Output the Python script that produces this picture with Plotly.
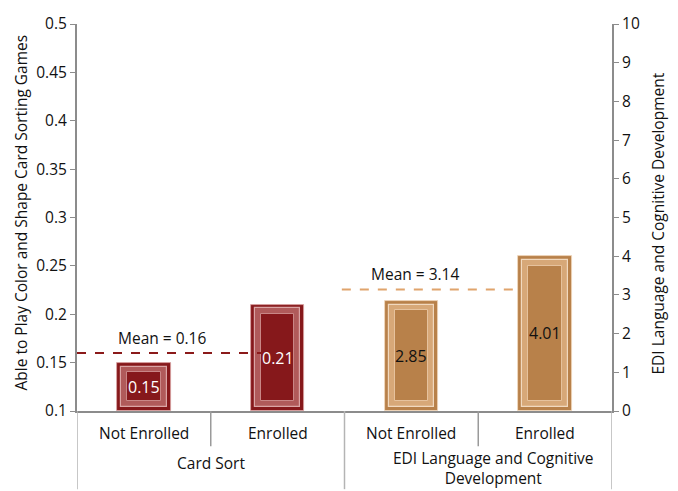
import plotly.graph_objects as go

# ---- data ----
groups = ["Card Sort", "EDI Language and Cognitive<br>Development"]
subcats = ["Not Enrolled", "Enrolled", "Not Enrolled", "Enrolled"]
card_values = [0.15, 0.21]          # left axis
edi_values = [2.85, 4.01]           # right axis
card_mean = 0.16
edi_mean = 3.14
left_ticks = [0.1, 0.15, 0.2, 0.25, 0.3, 0.35, 0.4, 0.45, 0.5]
right_ticks = list(range(0, 11))
left_title = "Able to Play Color and Shape Card Sorting Games"
right_title = "EDI Language and Cognitive Development"

# ---- style ----
FONT = "Open Sans"
AX = "#8c8c8c"
TXT = "#111111"
RED = dict(face="#86181b", band="#b05a5a", line="#dba5a5", inner="#c98686")
TAN = dict(face="#b8814a", band="#d7a878", line="#f1d9bf", inner="#e6c29d")
L_MIN, L_MAX = 0.1, 0.5
R_MIN, R_MAX = 0, 10
PLOT_W, PLOT_H = 535, 396          # px size of plotting area
X_PER_PX = 4 / PLOT_W
BAR_W = 0.40

fig = go.Figure()


def bevel_bar(xs, vals, axis, lo, hi, pal, txtcolor):
    per_px = (hi - lo) / PLOT_H
    layers = [  # (inset px, fill, outline, outline width)
        (0, pal["face"], pal["line"], 0.8),
        (4, pal["band"], pal["line"], 1.2),
        (10, pal["face"], pal["inner"], 1.0),
    ]
    for ins_px, fill, outline, lw in layers:
        ins_y = ins_px * per_px
        fig.add_trace(go.Bar(
            x=xs, y=[v - lo - 2 * ins_y for v in vals], base=[lo + ins_y] * len(vals),
            width=BAR_W - 2 * ins_px * X_PER_PX,
            marker=dict(color=fill, line=dict(color=outline, width=lw)),
            yaxis=axis, hoverinfo="skip", showlegend=False))
    for x, v in zip(xs, vals):
        fig.add_annotation(x=x, y=(lo + v) / 2, yref="y" if axis == "y" else "y2",
                           text=f"{v:.2f}", showarrow=False,
                           font=dict(family=FONT, size=16, color=txtcolor))


bevel_bar([0, 1], card_values, "y", L_MIN, L_MAX, RED, "white")
bevel_bar([2, 3], edi_values, "y2", R_MIN, R_MAX, TAN, TXT)

# mean lines
fig.add_shape(type="line", xref="x", yref="y", x0=-0.5, x1=1.07, y0=card_mean, y1=card_mean,
              line=dict(color="#8b1a1a", width=2, dash="dash"))
fig.add_shape(type="line", xref="x", yref="y2", x0=1.48, x1=2.76, y0=edi_mean, y1=edi_mean,
              line=dict(color="#e0a46c", width=2, dash="dash"))
fig.add_annotation(x=-0.21, y=card_mean, yref="y", xref="x", text=f"Mean = {card_mean:.2f}",
                   showarrow=False, yshift=15, xanchor="left", yanchor="middle",
                   font=dict(family=FONT, size=15.5, color=TXT))
fig.add_annotation(x=1.68, y=edi_mean, yref="y2", xref="x", text=f"Mean = {edi_mean:.2f}",
                   showarrow=False, yshift=15, xanchor="left", yanchor="middle",
                   font=dict(family=FONT, size=15.5, color=TXT))

# category labels
for i, s in enumerate(subcats):
    fig.add_annotation(x=i, y=-22 / PLOT_H, xref="x", yref="paper", text=s, showarrow=False,
                       yanchor="middle", font=dict(family=FONT, size=15.5, color=TXT))
for g, xc, yc, xs in zip(groups, [0.5, 2.5], [-53 / PLOT_H, -58 / PLOT_H], [0, 15]):
    fig.add_annotation(x=xc, y=yc, xref="x", yref="paper", text=g, showarrow=False,
                       xshift=xs, yanchor="middle",
                       font=dict(family=FONT, size=15.5, color=TXT))

# axis titles
fig.add_annotation(x=-57 / PLOT_W, y=0.5, xref="paper", yref="paper", text=left_title,
                   textangle=-90, showarrow=False, xanchor="center", yanchor="middle",
                   yshift=5, font=dict(family=FONT, size=15.5, color=TXT))
fig.add_annotation(x=1 + 45 / PLOT_W, y=0.5, xref="paper", yref="paper", text=right_title,
                   textangle=-90, showarrow=False, xanchor="center", yanchor="middle",
                   yshift=-6, font=dict(family=FONT, size=15.5, color=TXT))

# dividers
for xd in [-0.5, 1.5, 3.5]:
    fig.add_shape(type="line", xref="x", yref="paper", x0=xd, x1=xd, y0=0, y1=-80 / PLOT_H,
                  line=dict(color="#b4b4b4", width=1.5))
for xd in [0.5, 2.5]:
    fig.add_shape(type="line", xref="x", yref="paper", x0=xd, x1=xd, y0=0, y1=-36 / PLOT_H,
                  line=dict(color="#9a9a9a", width=1.5))

fig.update_layout(
    width=678, height=491,
    margin=dict(l=77, r=66, t=15, b=80),
    paper_bgcolor="white", plot_bgcolor="white",
    barmode="overlay", bargap=0,
    font=dict(family=FONT, size=15, color=TXT),
    xaxis=dict(range=[-0.5, 3.5], showticklabels=False, ticks="", showgrid=False,
               zeroline=False, showline=True, linecolor=AX, linewidth=2, fixedrange=True),
    yaxis=dict(range=[L_MIN, L_MAX], tickvals=left_ticks, ticktext=[f"{t:g}" for t in left_ticks],
               ticks="outside", ticklen=5, tickcolor=AX, showline=True, linecolor=AX,
               linewidth=2, showgrid=False, zeroline=False,
               tickfont=dict(family=FONT, size=15.5, color=TXT)),
    yaxis2=dict(range=[R_MIN, R_MAX], tickvals=right_ticks, overlaying="y", side="right",
                ticks="outside", ticklen=5, tickcolor=AX, showline=True, linecolor=AX,
                linewidth=2, showgrid=False, zeroline=False,
                tickfont=dict(family=FONT, size=15.5, color=TXT)),
)

fig.write_html("out.html")
